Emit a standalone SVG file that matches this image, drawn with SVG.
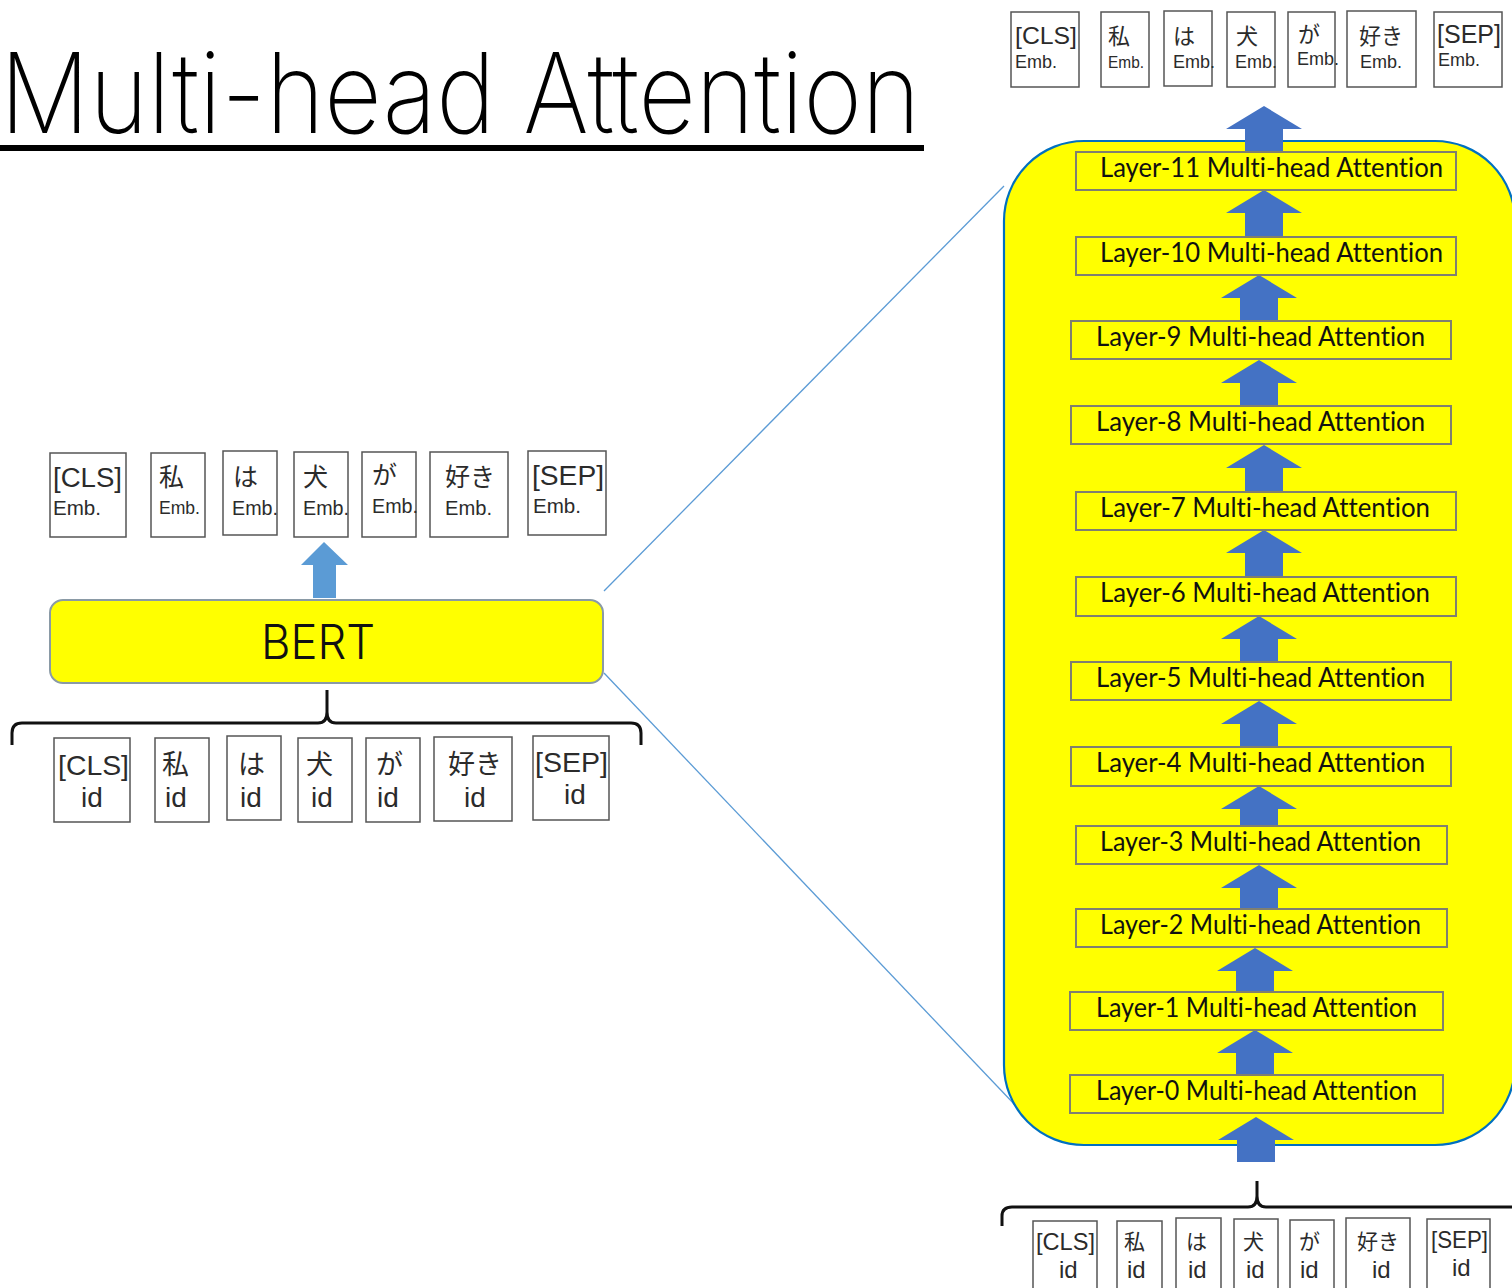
<svg xmlns="http://www.w3.org/2000/svg" width="1512" height="1288" viewBox="0 0 1512 1288">
  <style>
    .tok { fill: #ffffff; stroke: #555555; stroke-width: 1.5; }
    .jp { font-family: "Noto Sans CJK JP", "Noto Sans", sans-serif; fill: #2b2b2b; }
    .la { font-family: "Liberation Sans", Arial, sans-serif; fill: #2b2b2b; }
    .layer { fill: #ffff00; stroke: #7f7f70; stroke-width: 2; }
    .lt { font-family: Lato, "Open Sans", "Noto Sans", sans-serif; font-size: 26px; fill: #111111; font-variant-ligatures: none; }
    .blk { fill: #4472c4; }
    .zoomline { stroke: #5b9bd5; stroke-width: 1.3; fill: none; }
    .brace { stroke: #111111; stroke-width: 3; fill: none; }
  </style>

  <rect width="1512" height="1288" fill="#ffffff"/>

  <!-- title (horizontally condensed) -->
  <g id="title">
    <text transform="scale(0.86,1)" x="0" y="133" font-family="Inter, Roboto, 'Noto Sans', sans-serif" font-weight="200" font-size="112" fill="#000" textLength="1070" lengthAdjust="spacingAndGlyphs">Multi-head Attention</text>
    <rect x="0" y="145" width="924" height="6" fill="#000"/>
  </g>

  <!-- connectors: zoom lines, braces, block arrows -->
  <g id="connectors">
    <line class="zoomline" x1="604" y1="591" x2="1004" y2="186"/>
    <line class="zoomline" x1="604" y1="673" x2="1016" y2="1106"/>
    <path class="brace" d="M12,745 L12,733 Q12,723 22,723 L318,723 Q327,723 327,712 L327,690 M327,712 Q327,723 336,723 L631,723 Q641,723 641,733 L641,745"/>
    <path class="brace" d="M1002,1226 L1002,1216 Q1002,1207 1012,1207 L1248,1207 Q1257,1207 1257,1196 L1257,1181 M1257,1196 Q1257,1207 1266,1207 L1520,1207"/>
    <path fill="#5b9bd5" d="M324,542 L348,565 L336,565 L336,598 L313,598 L313,565 L301,565 Z"/>
  </g>

  <!-- left: BERT output embeddings -->
  <g id="emb-left">
    <g id="embL-cls"><rect class="tok" x="50" y="453" width="76" height="84"/><text class="la" x="53" y="487" font-size="27" textLength="69" lengthAdjust="spacingAndGlyphs">[CLS]</text><text class="la" x="53" y="515" font-size="20" textLength="48" lengthAdjust="spacingAndGlyphs">Emb.</text></g>
    <g id="embL-watashi"><rect class="tok" x="151" y="453" width="54" height="84"/><text class="jp" x="159" y="486" font-size="25">私</text><text class="la" x="159" y="514" font-size="18" textLength="41" lengthAdjust="spacingAndGlyphs">Emb.</text></g>
    <g id="embL-ha"><rect class="tok" x="223" y="451" width="54" height="84"/><text class="jp" x="233" y="486" font-size="25">は</text><text class="la" x="232" y="515" font-size="20" textLength="46" lengthAdjust="spacingAndGlyphs">Emb.</text></g>
    <g id="embL-inu"><rect class="tok" x="294" y="452" width="54" height="85"/><text class="jp" x="303" y="486" font-size="25">犬</text><text class="la" x="303" y="515" font-size="20" textLength="46" lengthAdjust="spacingAndGlyphs">Emb.</text></g>
    <g id="embL-ga"><rect class="tok" x="362" y="452" width="54" height="85"/><text class="jp" x="372" y="484" font-size="25">が</text><text class="la" x="372" y="513" font-size="20" textLength="46" lengthAdjust="spacingAndGlyphs">Emb.</text></g>
    <g id="embL-suki"><rect class="tok" x="430" y="452" width="78" height="85"/><text class="jp" x="445" y="486" font-size="25">好き</text><text class="la" x="445" y="515" font-size="20" textLength="47" lengthAdjust="spacingAndGlyphs">Emb.</text></g>
    <g id="embL-sep"><rect class="tok" x="528" y="451" width="78" height="84"/><text class="la" x="532" y="485" font-size="27" textLength="72" lengthAdjust="spacingAndGlyphs">[SEP]</text><text class="la" x="533" y="513" font-size="20" textLength="48" lengthAdjust="spacingAndGlyphs">Emb.</text></g>
  </g>

  <!-- left: BERT block -->
  <g id="bert">
    <rect x="50" y="600" width="553" height="83" rx="13" fill="#ffff00" stroke="#8a9aa6" stroke-width="2"/>
    <text x="318" y="659" text-anchor="middle" font-family="Inter, 'Noto Sans', sans-serif" font-weight="300" font-size="48" fill="#111" textLength="114" lengthAdjust="spacingAndGlyphs">BERT</text>
  </g>

  <!-- left: input ids -->
  <g id="ids-left">
    <g id="idL-cls"><rect class="tok" x="54" y="738" width="76" height="84"/><text class="la" x="58" y="775" font-size="28" textLength="71" lengthAdjust="spacingAndGlyphs">[CLS]</text><text class="la" x="81" y="807" font-size="28">id</text></g>
    <g id="idL-watashi"><rect class="tok" x="155" y="738" width="54" height="84"/><text class="jp" x="162" y="774" font-size="27">私</text><text class="la" x="165" y="807" font-size="28">id</text></g>
    <g id="idL-ha"><rect class="tok" x="227" y="736" width="54" height="84"/><text class="jp" x="238" y="774" font-size="27">は</text><text class="la" x="240" y="807" font-size="28">id</text></g>
    <g id="idL-inu"><rect class="tok" x="298" y="738" width="54" height="84"/><text class="jp" x="306" y="774" font-size="27">犬</text><text class="la" x="311" y="807" font-size="28">id</text></g>
    <g id="idL-ga"><rect class="tok" x="366" y="738" width="54" height="84"/><text class="jp" x="376" y="774" font-size="27">が</text><text class="la" x="377" y="807" font-size="28">id</text></g>
    <g id="idL-suki"><rect class="tok" x="434" y="737" width="78" height="84"/><text class="jp" x="448" y="774" font-size="27">好き</text><text class="la" x="464" y="807" font-size="28">id</text></g>
    <g id="idL-sep"><rect class="tok" x="533" y="736" width="76" height="84"/><text class="la" x="535" y="772" font-size="28" textLength="73" lengthAdjust="spacingAndGlyphs">[SEP]</text><text class="la" x="564" y="804" font-size="28">id</text></g>
  </g>

  <!-- right: expanded BERT encoder -->
  <g id="encoder">
    <rect x="1004" y="141" width="511" height="1004" rx="80" ry="80" fill="#ffff00" stroke="#0070c0" stroke-width="2.2"/>
  </g>

  <g id="layer-arrows">
    <path class="blk" d="M1264,106 L1302,129 L1283,129 L1283,153 L1245,153 L1245,129 L1226,129 Z"/>
    <path class="blk" d="M1264,190 L1302,213 L1283,213 L1283,238 L1245,238 L1245,213 L1226,213 Z"/>
    <path class="blk" d="M1259,275 L1297,298 L1278,298 L1278,322 L1240,322 L1240,298 L1221,298 Z"/>
    <path class="blk" d="M1259,360 L1297,383 L1278,383 L1278,407 L1240,407 L1240,383 L1221,383 Z"/>
    <path class="blk" d="M1264,445 L1302,468 L1283,468 L1283,493 L1245,493 L1245,468 L1226,468 Z"/>
    <path class="blk" d="M1264,530 L1302,553 L1283,553 L1283,578 L1245,578 L1245,553 L1226,553 Z"/>
    <path class="blk" d="M1259,616 L1297,639 L1278,639 L1278,663 L1240,663 L1240,639 L1221,639 Z"/>
    <path class="blk" d="M1259,701 L1297,724 L1278,724 L1278,748 L1240,748 L1240,724 L1221,724 Z"/>
    <path class="blk" d="M1259,786 L1297,809 L1278,809 L1278,827 L1240,827 L1240,809 L1221,809 Z"/>
    <path class="blk" d="M1259,865 L1297,888 L1278,888 L1278,910 L1240,910 L1240,888 L1221,888 Z"/>
    <path class="blk" d="M1255,948 L1293,971 L1274,971 L1274,993 L1236,993 L1236,971 L1217,971 Z"/>
    <path class="blk" d="M1255,1030 L1293,1053 L1274,1053 L1274,1076 L1236,1076 L1236,1053 L1217,1053 Z"/>
    <path class="blk" d="M1256,1117 L1294,1140 L1275,1140 L1275,1162 L1237,1162 L1237,1140 L1218,1140 Z"/>
  </g>

  <g id="layers">
    <g id="layer-11"><rect class="layer" x="1076" y="152" width="380" height="38"/><text class="lt" x="1100" y="177" textLength="343" lengthAdjust="spacingAndGlyphs">Layer-11 Multi-head Attention</text></g>
    <g id="layer-10"><rect class="layer" x="1076" y="237" width="380" height="38"/><text class="lt" x="1100" y="262" textLength="343" lengthAdjust="spacingAndGlyphs">Layer-10 Multi-head Attention</text></g>
    <g id="layer-9"><rect class="layer" x="1071" y="321" width="380" height="38"/><text class="lt" x="1096" y="346" textLength="329" lengthAdjust="spacingAndGlyphs">Layer-9 Multi-head Attention</text></g>
    <g id="layer-8"><rect class="layer" x="1071" y="406" width="380" height="38"/><text class="lt" x="1096" y="431" textLength="329" lengthAdjust="spacingAndGlyphs">Layer-8 Multi-head Attention</text></g>
    <g id="layer-7"><rect class="layer" x="1076" y="492" width="380" height="38"/><text class="lt" x="1100" y="517" textLength="330" lengthAdjust="spacingAndGlyphs">Layer-7 Multi-head Attention</text></g>
    <g id="layer-6"><rect class="layer" x="1076" y="577" width="380" height="39"/><text class="lt" x="1100" y="602" textLength="330" lengthAdjust="spacingAndGlyphs">Layer-6 Multi-head Attention</text></g>
    <g id="layer-5"><rect class="layer" x="1071" y="662" width="380" height="38"/><text class="lt" x="1096" y="687" textLength="329" lengthAdjust="spacingAndGlyphs">Layer-5 Multi-head Attention</text></g>
    <g id="layer-4"><rect class="layer" x="1071" y="747" width="380" height="39"/><text class="lt" x="1096" y="772" textLength="329" lengthAdjust="spacingAndGlyphs">Layer-4 Multi-head Attention</text></g>
    <g id="layer-3"><rect class="layer" x="1076" y="826" width="371" height="38"/><text class="lt" x="1100" y="851" textLength="321" lengthAdjust="spacingAndGlyphs">Layer-3 Multi-head Attention</text></g>
    <g id="layer-2"><rect class="layer" x="1076" y="909" width="371" height="38"/><text class="lt" x="1100" y="934" textLength="321" lengthAdjust="spacingAndGlyphs">Layer-2 Multi-head Attention</text></g>
    <g id="layer-1"><rect class="layer" x="1070" y="992" width="373" height="38"/><text class="lt" x="1096" y="1017" textLength="321" lengthAdjust="spacingAndGlyphs">Layer-1 Multi-head Attention</text></g>
    <g id="layer-0"><rect class="layer" x="1070" y="1075" width="373" height="38"/><text class="lt" x="1096" y="1100" textLength="321" lengthAdjust="spacingAndGlyphs">Layer-0 Multi-head Attention</text></g>
  </g>

  <!-- right: output embeddings -->
  <g id="emb-right">
    <g id="embR-cls"><rect class="tok" x="1011" y="12" width="68" height="75"/><text class="la" x="1015" y="44" font-size="24" textLength="62" lengthAdjust="spacingAndGlyphs">[CLS]</text><text class="la" x="1015" y="68" font-size="18" textLength="42" lengthAdjust="spacingAndGlyphs">Emb.</text></g>
    <g id="embR-watashi"><rect class="tok" x="1101" y="12" width="48" height="75"/><text class="jp" x="1108" y="44" font-size="22">私</text><text class="la" x="1108" y="68" font-size="17" textLength="36" lengthAdjust="spacingAndGlyphs">Emb.</text></g>
    <g id="embR-ha"><rect class="tok" x="1164" y="11" width="48" height="75"/><text class="jp" x="1173" y="44" font-size="22">は</text><text class="la" x="1173" y="68" font-size="18" textLength="42" lengthAdjust="spacingAndGlyphs">Emb.</text></g>
    <g id="embR-inu"><rect class="tok" x="1227" y="12" width="48" height="75"/><text class="jp" x="1236" y="44" font-size="22">犬</text><text class="la" x="1235" y="68" font-size="18" textLength="42" lengthAdjust="spacingAndGlyphs">Emb.</text></g>
    <g id="embR-ga"><rect class="tok" x="1288" y="12" width="47" height="75"/><text class="jp" x="1298" y="42" font-size="22">が</text><text class="la" x="1297" y="65" font-size="18" textLength="42" lengthAdjust="spacingAndGlyphs">Emb.</text></g>
    <g id="embR-suki"><rect class="tok" x="1347" y="11" width="69" height="76"/><text class="jp" x="1359" y="44" font-size="22">好き</text><text class="la" x="1360" y="68" font-size="18" textLength="42" lengthAdjust="spacingAndGlyphs">Emb.</text></g>
    <g id="embR-sep"><rect class="tok" x="1434" y="12" width="68" height="75"/><text class="la" x="1437" y="43" font-size="25" textLength="64" lengthAdjust="spacingAndGlyphs">[SEP]</text><text class="la" x="1438" y="66" font-size="18" textLength="42" lengthAdjust="spacingAndGlyphs">Emb.</text></g>
  </g>

  <!-- right: input ids -->
  <g id="ids-right">
    <g id="idR-cls"><rect class="tok" x="1033" y="1221" width="64" height="80"/><text class="la" x="1036" y="1250" font-size="24" textLength="59" lengthAdjust="spacingAndGlyphs">[CLS]</text><text class="la" x="1059" y="1278" font-size="24">id</text></g>
    <g id="idR-watashi"><rect class="tok" x="1117" y="1221" width="45" height="80"/><text class="jp" x="1124" y="1249" font-size="21">私</text><text class="la" x="1127" y="1278" font-size="24">id</text></g>
    <g id="idR-ha"><rect class="tok" x="1176" y="1218" width="45" height="83"/><text class="jp" x="1186" y="1249" font-size="21">は</text><text class="la" x="1188" y="1278" font-size="24">id</text></g>
    <g id="idR-inu"><rect class="tok" x="1234" y="1219" width="44" height="82"/><text class="jp" x="1243" y="1249" font-size="21">犬</text><text class="la" x="1246" y="1278" font-size="24">id</text></g>
    <g id="idR-ga"><rect class="tok" x="1290" y="1220" width="44" height="81"/><text class="jp" x="1299" y="1249" font-size="21">が</text><text class="la" x="1300" y="1278" font-size="24">id</text></g>
    <g id="idR-suki"><rect class="tok" x="1346" y="1218" width="64" height="83"/><text class="jp" x="1357" y="1249" font-size="21">好き</text><text class="la" x="1372" y="1278" font-size="24">id</text></g>
    <g id="idR-sep"><rect class="tok" x="1427" y="1219" width="63" height="82"/><text class="la" x="1431" y="1248" font-size="24" textLength="57" lengthAdjust="spacingAndGlyphs">[SEP]</text><text class="la" x="1452" y="1276" font-size="24">id</text></g>
  </g>
</svg>
